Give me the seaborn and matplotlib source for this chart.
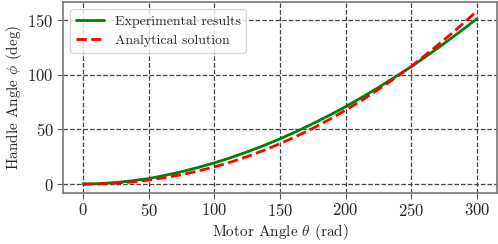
import numpy as np
import pandas as pd
import seaborn as sns
import matplotlib.pyplot as plt

# motor angle samples and the two handle angle curves
motor_angle = [0, 12.5, 25, 37.5, 50, 62.5, 75, 87.5, 100, 112.5, 125, 137.5, 150,
               162.5, 175, 187.5, 200, 212.5, 225, 237.5, 250, 262.5, 275, 287.5, 300]
experimental = [0, 0.4, 1.4, 3.1, 5.0, 8.0, 11.3, 15.1, 19.4, 24.1, 29.4, 35.1, 41.3,
                48.0, 55.1, 62.7, 70.7, 79.2, 88.2, 97.6, 107.2, 117.6, 128.3, 139.4, 151.0]
analytical = [0, 0.2, 0.9, 2.0, 3.7, 5.9, 8.6, 11.9, 15.7, 20.1, 25.1, 30.7, 36.9,
              43.6, 50.9, 58.9, 67.5, 76.6, 86.4, 96.7, 107.5, 119.4, 131.6, 144.5, 158.0]

df = pd.DataFrame({"motor": motor_angle, "exp": experimental, "ana": analytical})

sns.set_style("ticks")
plt.rcParams['font.family'] = ['cmr10', 'DejaVu Serif']
plt.rcParams['mathtext.fontset'] = 'cm'
plt.rcParams['axes.formatter.use_mathtext'] = True

fig, ax = plt.subplots(figsize=(4.98, 2.44), dpi=100)
sns.lineplot(data=df, x="motor", y="exp", color="green", linewidth=2,
             label="Experimental results", ax=ax)
sns.lineplot(data=df, x="motor", y="ana", color="red", linewidth=2,
             linestyle="--", label="Analytical solution", ax=ax)

ax.set_xticks([0, 50, 100, 150, 200, 250, 300])
ax.set_yticks([0, 50, 100, 150])
ax.grid(True, linestyle="--", color="#444444", linewidth=0.9)
ax.tick_params(labelsize=12, color="#555555", length=4, pad=3)
for s in ax.spines.values():
    s.set_color("#777777")
    s.set_linewidth(1.2)

ax.set_xlabel(r"Motor Angle $\theta$ (rad)", fontsize=11, labelpad=2)
ax.set_ylabel(r"Handle Angle $\phi$ (deg)", fontsize=11, labelpad=2)
ax.legend(loc="upper left", fontsize=10, framealpha=0.8)

fig.subplots_adjust(left=0.127, right=0.997, bottom=0.21, top=0.99)
fig.savefig("out.png", dpi=100)
